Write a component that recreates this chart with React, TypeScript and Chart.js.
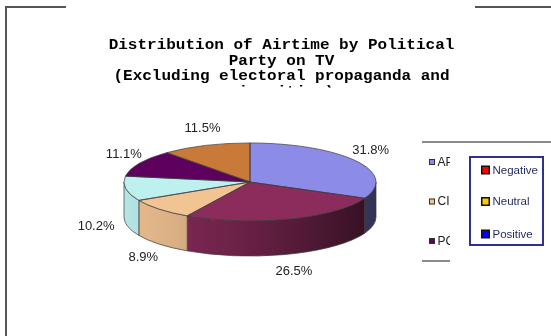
import React, { useEffect, useRef } from "react";
import { Chart, registerables } from "chart.js";

Chart.register(...registerables);

// ---- data ----
const parties = ["AP", "PD", "CI", "PS", "PC", "Others"];
const shares = [31.8, 26.5, 8.9, 10.2, 11.1, 11.5];
const sliceColors = ["#8C8CE8", "#8B2C5C", "#F2C393", "#BFF0F0", "#5E005E", "#C97A38"];
const titleLines = [
  "Distribution of Airtime by Political",
  "Party on TV",
  "(Excluding electoral propaganda and",
  "minorities)",
];
const toneLabels = ["Negative", "Neutral", "Positive"];
const toneColors = ["#FF0000", "#FFC800", "#0000FF"];

// ---- style ----
const SQUASH = 0.31;
const DEPTH = 35;
const EDGE = "#3a3a3a";
const LABEL_FONT = "13px 'Liberation Sans', Arial, sans-serif";
const TITLE_FONT = "bold 14px 'Liberation Mono', 'Courier New', monospace";

function shade(hex: string, f: number): string {
  const n = parseInt(hex.slice(1), 16);
  const r = Math.round(((n >> 16) & 255) * f);
  const g = Math.round(((n >> 8) & 255) * f);
  const b = Math.round((n & 255) * f);
  return `rgb(${r},${g},${b})`;
}

const pie3d = {
  id: "pie3d",
  beforeDatasetsDraw(chart: any) {
    const ctx = chart.ctx;
    const meta = chart.getDatasetMeta(0);
    const first = meta.data[0];
    const cx = first.x, cy = first.y, R = first.outerRadius;
    const ry = R * SQUASH;
    meta.data.forEach((arc: any, i: number) => {
      const a = Math.max(arc.startAngle, 0);
      const b = Math.min(arc.endAngle, Math.PI);
      if (b <= a) return;
      const g = ctx.createLinearGradient(cx - R, 0, cx + R, 0);
      for (let k = 0; k <= 10; k++) {
        const t = k / 10;
        g.addColorStop(t, shade(sliceColors[i], 0.95 - 0.6 * Math.pow(t, 1.5)));
      }
      ctx.beginPath();
      ctx.ellipse(cx, cy, R, ry, 0, a, b);
      ctx.ellipse(cx, cy + DEPTH, R, ry, 0, b, a, true);
      ctx.closePath();
      ctx.fillStyle = g;
      ctx.fill();
      ctx.strokeStyle = EDGE;
      ctx.lineWidth = 0.7;
      ctx.stroke();
    });
    ctx.save();
    ctx.translate(cx, cy);
    ctx.scale(1, SQUASH);
    ctx.translate(-cx, -cy);
  },
  afterDatasetsDraw(chart: any) {
    const ctx = chart.ctx;
    ctx.restore();
    const meta = chart.getDatasetMeta(0);
    const first = meta.data[0];
    const cx = first.x, cy = first.y, R = first.outerRadius;
    const ry = R * SQUASH;
    ctx.save();
    ctx.strokeStyle = EDGE;
    ctx.lineWidth = 0.7;
    meta.data.forEach((arc: any) => {
      ctx.beginPath();
      ctx.moveTo(cx, cy);
      ctx.ellipse(cx, cy, R, ry, 0, arc.startAngle, arc.endAngle);
      ctx.closePath();
      ctx.stroke();
    });
    // percentage labels
    ctx.font = LABEL_FONT;
    ctx.fillStyle = "#222";
    ctx.textAlign = "center";
    ctx.textBaseline = "middle";
    meta.data.forEach((arc: any, i: number) => {
      const text = shares[i].toFixed(1) + "%";
      const hw = ctx.measureText(text).width / 2;
      const hh = 6.5;
      const m = (arc.startAngle + arc.endAngle) / 2;
      const cs = Math.cos(m), sn = Math.sin(m);
      const front = sn > 0;
      const x = cx + (R + (front ? 12 : 2)) * cs + hw * cs * Math.abs(cs);
      const y = cy + (ry + 12) * sn + hh * sn + (front ? DEPTH : 0);
      ctx.fillText(text, x, y);
    });
    ctx.restore();
  },
};

const decor = {
  id: "decor",
  afterDraw(chart: any) {
    const ctx = chart.ctx;
    ctx.save();
    // frame fragments
    ctx.strokeStyle = "#555";
    ctx.lineWidth = 2;
    ctx.beginPath();
    ctx.moveTo(6, 7); ctx.lineTo(66, 7);
    ctx.moveTo(6, 6); ctx.lineTo(6, 336);
    ctx.moveTo(475, 7); ctx.lineTo(551, 7);
    ctx.stroke();
    ctx.strokeStyle = "#666";
    ctx.lineWidth = 1.5;
    ctx.beginPath();
    ctx.moveTo(422, 142); ctx.lineTo(551, 142);
    ctx.moveTo(422, 261); ctx.lineTo(450, 261);
    ctx.stroke();

    // title (last line mostly hidden)
    ctx.save();
    ctx.beginPath();
    ctx.rect(0, 0, 551, 87.5);
    ctx.clip();
    ctx.font = TITLE_FONT;
    ctx.fillStyle = "#000";
    ctx.textAlign = "center";
    ctx.textBaseline = "alphabetic";
    ctx.translate(281.5, 0);
    ctx.scale(1.143, 1);
    titleLines.forEach((line, i) => {
      ctx.fillText(line, 0, 49 + i * 15.7);
    });
    ctx.restore();

    // party legend (2 columns, right column hidden)
    ctx.save();
    ctx.beginPath();
    ctx.rect(0, 0, 450, 336);
    ctx.clip();
    ctx.font = "12px 'Liberation Sans', Arial, sans-serif";
    ctx.textBaseline = "middle";
    ctx.textAlign = "left";
    parties.forEach((p, i) => {
      const col = i % 2, row = Math.floor(i / 2);
      const x = 429 + col * 60;
      const y = 162 + row * 39.5;
      ctx.fillStyle = sliceColors[i];
      ctx.fillRect(x, y - 3, 6, 6);
      ctx.strokeStyle = "#333";
      ctx.lineWidth = 1;
      ctx.strokeRect(x + 0.5, y - 2.5, 5, 5);
      ctx.fillStyle = "#222";
      ctx.fillText(p, x + 8.5, y + 0.5);
    });
    ctx.restore();

    // tone legend box
    ctx.fillStyle = "#fff";
    ctx.fillRect(469, 157, 75, 88);
    ctx.strokeStyle = "#2E3192";
    ctx.lineWidth = 2;
    ctx.strokeRect(470, 157, 73, 88);
    ctx.font = "11.5px 'Liberation Sans', Arial, sans-serif";
    ctx.textBaseline = "middle";
    ctx.textAlign = "left";
    const ys = [170, 201.5, 234];
    toneLabels.forEach((t, i) => {
      ctx.fillStyle = "#111";
      ctx.fillRect(481, ys[i] - 4.5, 9, 9);
      ctx.fillStyle = toneColors[i];
      ctx.fillRect(482.5, ys[i] - 3, 6, 6);
      ctx.fillStyle = "#1E2A5E";
      ctx.fillText(t, 492.5, ys[i] + 0.5);
    });
    ctx.restore();
  },
};

export default function App() {
  const ref = useRef<HTMLCanvasElement | null>(null);
  useEffect(() => {
    if (!ref.current) return;
    const chart = new Chart(ref.current, {
      type: "pie",
      data: {
        labels: parties,
        datasets: [
          {
            data: shares,
            backgroundColor: sliceColors,
            borderWidth: 0,
            hoverOffset: 0,
            offset: 0,
          },
        ],
      },
      options: {
        responsive: false,
        animation: false,
        events: [],
        layout: { padding: { left: 124, right: 175, top: 56, bottom: 28 } },
        plugins: {
          legend: { display: false },
          title: { display: false },
          tooltip: { enabled: false },
        },
      },
      plugins: [pie3d, decor],
    } as any);
    return () => chart.destroy();
  }, []);
  return (
    <div style={{ position: "fixed", left: 0, top: 0, width: 551, height: 336, background: "#fff" }}>
      <canvas ref={ref} width={551} height={336} style={{ width: 551, height: 336 }} />
    </div>
  );
}
